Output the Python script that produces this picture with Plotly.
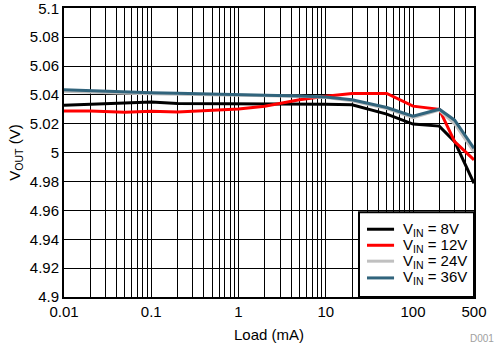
import plotly.graph_objects as go

load_ma = [0.01, 0.02, 0.05, 0.1, 0.2, 0.5, 1, 2, 5, 10, 20, 50, 100, 200, 300, 500]
vout_8v = [5.0328, 5.0335, 5.0340, 5.0350, 5.0340, 5.0340, 5.0340, 5.0338, 5.0335, 5.0335, 5.0332, 5.0267, 5.0198, 5.0184, 5.0076, 4.9788]
vout_12v = [5.0288, 5.0288, 5.0279, 5.0287, 5.0282, 5.0292, 5.0302, 5.0322, 5.0366, 5.0390, 5.0410, 5.0410, 5.0322, 5.0300, 5.0076, 4.9950]
vout_24v = [5.0425, 5.0418, 5.0412, 5.0408, 5.0405, 5.0402, 5.0400, 5.0396, 5.0390, 5.0382, 5.0360, 5.0305, 5.0242, 5.0295, 5.0200, 5.0005]
vout_36v = [5.0435, 5.0428, 5.0420, 5.0415, 5.0412, 5.0408, 5.0405, 5.0400, 5.0393, 5.0385, 5.0366, 5.0313, 5.0253, 5.0301, 5.0225, 5.0030]

series_names = ["V<sub>IN</sub> = 8V", "V<sub>IN</sub> = 12V", "V<sub>IN</sub> = 24V", "V<sub>IN</sub> = 36V"]
series_colors = ["#000000", "#FF0000", "#C0C0C0", "#31647C"]

x_grid_vals = [0.01, 0.02, 0.03, 0.04, 0.05, 0.06, 0.07, 0.08, 0.09,
               0.1, 0.2, 0.3, 0.4, 0.5, 0.6, 0.7, 0.8, 0.9,
               1, 2, 3, 4, 5, 6, 7, 8, 9,
               10, 20, 30, 40, 50, 60, 70, 80, 90,
               100, 200, 300, 400, 500]
x_labeled = {0.01: "0.01", 0.1: "0.1", 1: "1", 10: "10", 100: "100", 500: "500"}
x_tick_text = [x_labeled.get(v, "") for v in x_grid_vals]

y_tick_vals = [4.9, 4.92, 4.94, 4.96, 4.98, 5.0, 5.02, 5.04, 5.06, 5.08, 5.1]
y_tick_text = ["4.9", "4.92", "4.94", "4.96", "4.98", "5", "5.02", "5.04", "5.06", "5.08", "5.1"]

fig = go.Figure()
for name, color, ys in zip(series_names, series_colors, [vout_8v, vout_12v, vout_24v, vout_36v]):
    fig.add_trace(go.Scatter(x=load_ma, y=ys, mode="lines", name=name,
                             line=dict(color=color, width=3), showlegend=False))

font_family = "Liberation Sans, Arial, sans-serif"
fig.update_layout(
    width=496, height=343,
    margin=dict(l=64, r=22, t=8, b=46),
    paper_bgcolor="white", plot_bgcolor="white",
    font=dict(family=font_family, size=15, color="black"),
    showlegend=False,
    xaxis=dict(type="log", range=[-2, 2.69897], automargin=False,
               tickmode="array", tickvals=x_grid_vals, ticktext=x_tick_text,
               showgrid=True, gridcolor="black", gridwidth=1,
               showline=True, linecolor="black", linewidth=2, mirror=True,
               ticks="", tickfont=dict(size=15), ticklabeloverflow="allow",
               title=dict(text="Load (mA)", font=dict(size=15), standoff=10),
               zeroline=False),
    yaxis=dict(range=[4.9, 5.1002], automargin=False,
               tickmode="array", tickvals=y_tick_vals, ticktext=y_tick_text,
               showgrid=True, gridcolor="black", gridwidth=1,
               showline=True, linecolor="black", linewidth=2, mirror=True,
               ticks="", tickfont=dict(size=15), ticklabeloverflow="allow",
               title=dict(text="V<sub>OUT</sub> (V)", font=dict(size=15), standoff=6),
               zeroline=False),
)

# legend box (manual, to match the compact entry spacing)
leg_x0, leg_x1, leg_y0, leg_y1 = 0.7195, 1.0, 0.0, 0.293
fig.add_shape(type="rect", xref="paper", yref="paper", x0=leg_x0, x1=leg_x1, y0=leg_y0, y1=leg_y1,
              fillcolor="white", line=dict(color="black", width=2), layer="above")
entry_y = [0.2345, 0.179, 0.124, 0.066]
for name, color, yy in zip(series_names, series_colors, entry_y):
    fig.add_shape(type="line", xref="paper", yref="paper", x0=0.739, x1=0.805, y0=yy, y1=yy,
                  line=dict(color=color, width=3), layer="above")
    fig.add_annotation(text=name, xref="paper", yref="paper", x=0.822, y=yy,
                       xanchor="left", yanchor="middle", showarrow=False,
                       font=dict(size=15, color="black"))

fig.add_annotation(text="D001", xref="paper", yref="paper", x=1.054, y=-0.142,
                   xanchor="right", yanchor="middle", showarrow=False,
                   font=dict(size=10, color="#A0A0A0"))

fig.write_html("out.html")
